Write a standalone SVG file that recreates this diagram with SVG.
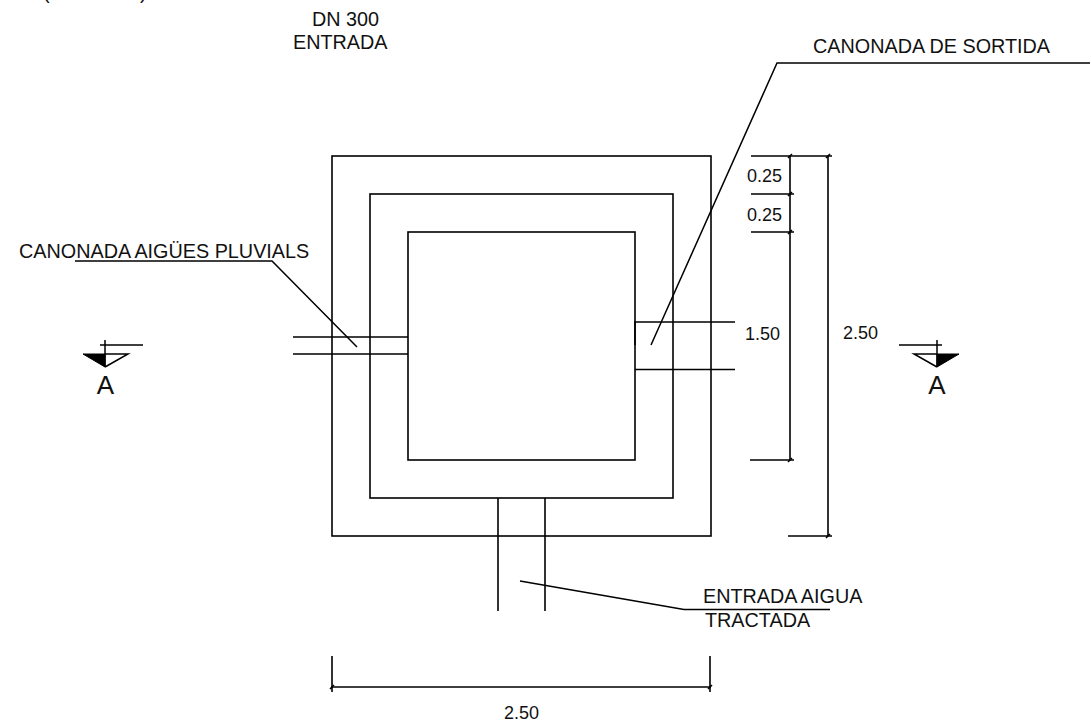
<svg xmlns="http://www.w3.org/2000/svg" width="1091" height="724" viewBox="0 0 1091 724">
<style>
.l{fill:none;stroke:#000;stroke-width:1.6}
.t{fill:none;stroke:#000;stroke-width:1.5}
text{font-family:"Liberation Sans",Arial,sans-serif;font-size:19.8px;fill:#111}
.n{font-size:18px}
.a{font-size:26px}
</style>
<rect width="1091" height="724" fill="#fff"/>
<g id="outer-wall"><rect class="l" x="332" y="156" width="379" height="380"/></g>
<g id="middle-wall"><rect class="l" x="370" y="194" width="303" height="304"/></g>
<g id="inner-wall"><rect class="l" x="408" y="232" width="227" height="228"/></g>
<g id="connectors">
<path class="l" d="M293 337H408M293 354H408"/>
<path class="l" d="M635 322H735M635 369.500H735M635 321V345"/>
<path class="l" d="M498 498V611M545 498V611"/>
<path class="t" d="M75 261H272L357 347"/>
<path class="t" d="M1090 63H777L651 345"/>
<path class="t" d="M830 609.500H684L520 581"/>
</g>
<g id="dim-right">
<path class="l" d="M751 156H832M751 194H794M751 232H794M750 460H794M788 536H832"/>
<path class="l" d="M790 156V460M828 156V536"/>
<path class="l" d="M788 158L792 154M788 196L792 192M788 234L792 230M788 462L792 458M826 158L830 154M826 538L830 534"/>
</g>
<g id="dim-bottom">
<path class="l" d="M332 656V692M710 656V692M331 687H711"/>
<path class="l" d="M330 689L334 685M708 689L712 685"/>
</g>
<g id="section-left">
<path class="t" d="M100 345H143M105 340V367"/>
<path d="M83 354H105V367Z" fill="#000" stroke="#000"/>
<path class="t" d="M105 354H128L105 367"/>
<text class="a" x="105.500" y="394" text-anchor="middle">A</text>
</g>
<g id="section-right">
<path class="t" d="M899 345H942M937 340V367"/>
<path d="M959 354H937V367Z" fill="#000" stroke="#000"/>
<path class="t" d="M937 354H914L937 367"/>
<text class="a" x="937" y="394" text-anchor="middle">A</text>
</g>
<g id="labels">
<text x="43" y="-1">(</text>
<text x="140" y="-1">)</text>
<text x="312" y="26">DN 300</text>
<text x="293" y="49">ENTRADA</text>
<text x="813" y="53">CANONADA DE SORTIDA</text>
<text x="19" y="258">CANONADA AIGÜES PLUVIALS</text>
<text x="703" y="603">ENTRADA AIGUA</text>
<text x="705" y="627">TRACTADA</text>
<text class="n" x="747" y="182">0.25</text>
<text class="n" x="747" y="221">0.25</text>
<text class="n" x="745" y="340">1.50</text>
<text class="n" x="843" y="339">2.50</text>
<text class="n" x="504" y="719">2.50</text>
</g>
</svg>
